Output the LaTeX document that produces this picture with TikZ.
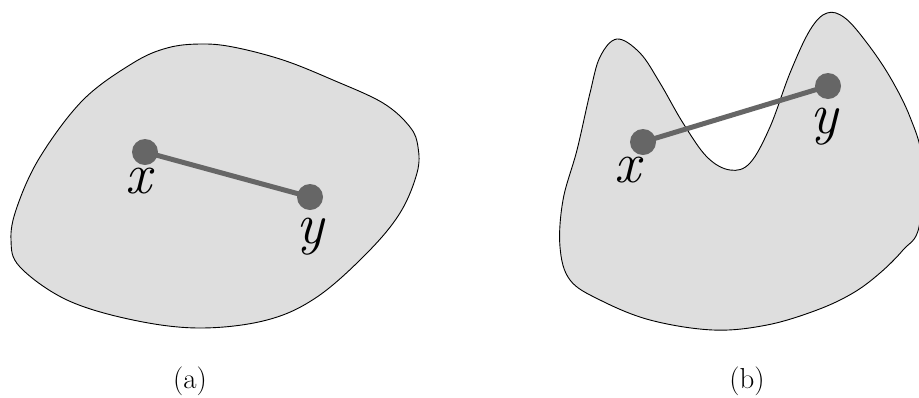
\documentclass[tikz,border=0pt]{standalone}
\usepackage{fontspec}
\begin{document}
\begin{tikzpicture}[x=1bp,y=-1bp,
  region/.style={draw=black,line width=0.9bp,fill=black!13},
  dot/.style={circle,fill=black!60,inner sep=0pt,minimum size=26bp},
  seg/.style={draw=black!60,line width=5bp},
  lbl/.style={font=\fontsize{58}{64}\selectfont\itshape,inner sep=0pt,anchor=base},
  captext/.style={font=\fontsize{29}{34}\selectfont,inner sep=0pt,anchor=base}]
\useasboundingbox (0,0) rectangle (919,397);
\begin{scope}
\clip (0,0) rectangle (919,397);
% left convex region
\path[region] plot[smooth cycle,tension=0.6] coordinates {
 (200,44) (233,47) (283,60) (333,80) (383,103) (410,127) (418,147) (417,173)
 (400,213) (367,253) (317,297) (267,320) (200,328) (133,320) (67,300)
 (20,267) (11,240) (17,207) (40,157) (83,100) (133,63) (167,48)};
% right non-convex region
\path[region] plot[smooth cycle,tension=0.6] coordinates {
 (617,39) (640,53) (660,83) (683,123) (707,157) (730,170) (750,163) (770,127)
 (790,73) (810,30) (827,13) (845,18) (867,43) (890,77) (910,117) (922,160)
 (919,227) (903,250) (880,273) (853,293) (817,310) (767,325) (713,330)
 (650,320) (600,300) (570,280) (560,247) (563,200) (577,150) (590,93) (600,57)};
\end{scope}
% (a)
\node[dot] (xa) at (145,152) {};
\node[dot] (ya) at (310,197) {};
\draw[seg] (xa.center) -- (ya.center);
\node[lbl] (lxa) at (138,193) {x};
\node[lbl] (lya) at (310,243) {y};
% (b)
\node[dot] (xb) at (643,142) {};
\node[dot] (yb) at (828,86) {};
\draw[seg] (xb.center) -- (yb.center);
\node[lbl] (lxb) at (627,182) {x};
\node[lbl] (lyb) at (824,133) {y};
% captions
\node[captext] (ca) at (190,388) {(a)};
\node[captext] (cb) at (747,388) {(b)};
\end{tikzpicture}
\end{document}
